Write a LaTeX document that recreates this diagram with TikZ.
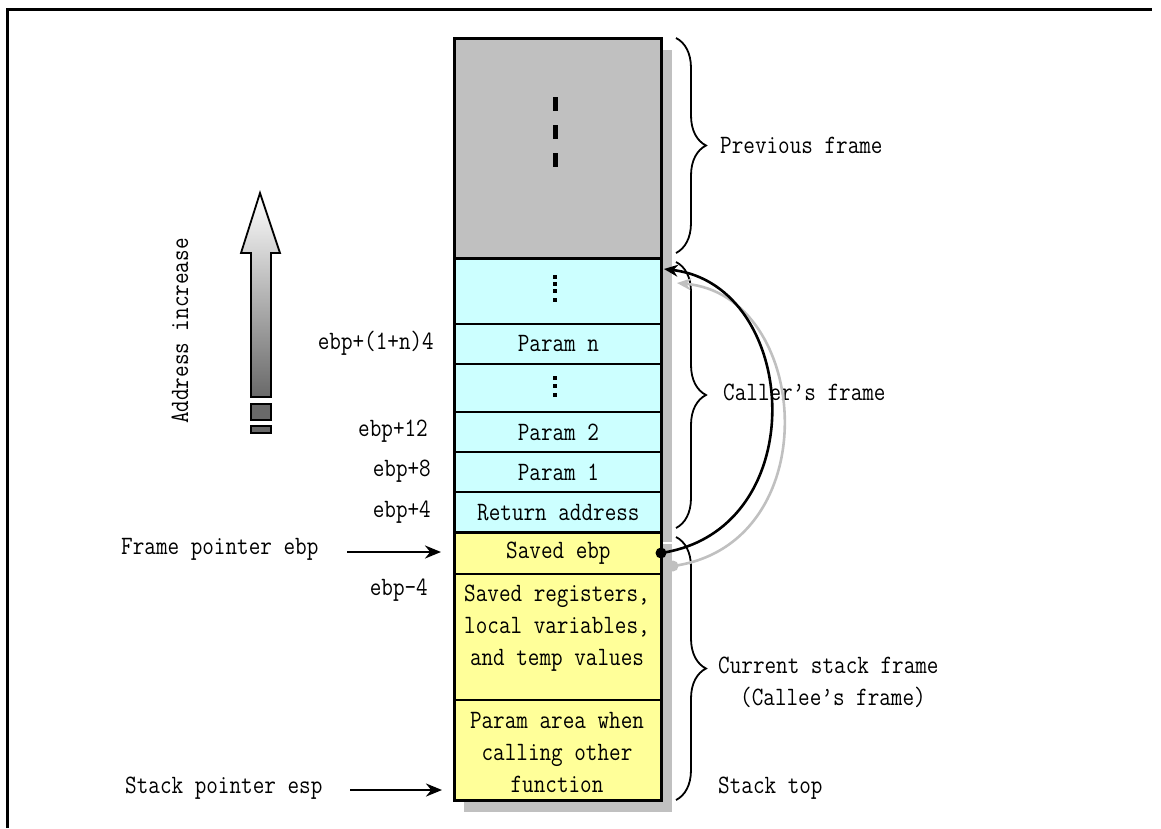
\documentclass[tikz,border=0pt]{standalone}
\usepackage{fontspec}
\setmainfont{Latin Modern Mono}[FakeStretch=0.85]
\usetikzlibrary{decorations.pathreplacing,arrows.meta}
\definecolor{cyanc}{RGB}{204,255,255}
\definecolor{yelc}{RGB}{255,255,153}
\definecolor{grayc}{RGB}{192,192,192}
\definecolor{shadowc}{RGB}{192,192,192}
\definecolor{darkg}{RGB}{105,105,105}
\begin{document}
\begin{tikzpicture}[x=1pt,y=-1pt,
  font=\fontsize{26.5}{32}\selectfont,
  cell/.style={draw, line width=1.8pt, minimum width=207pt, minimum height=#1, inner sep=0pt, anchor=north west},
  lbl/.style={inner sep=0pt, align=center},
  brc/.style={decorate, decoration={brace, amplitude=30pt}, line width=1.8pt},
  ptr/.style={line width=2.6pt, -{Stealth[length=16pt,width=13pt]}},
]
\useasboundingbox (0,0) rectangle (1161,828);
% outer frame
\draw[line width=3pt] (7,828) -- (7,9) -- (1152,9);
% shadow
\fill[shadowc] (464,50) rectangle (672,812);
\draw[white, line width=2pt] (661,543) -- (674,543);
% cells
\node[cell=220pt, fill=grayc] (prev) at (454,38) {};
\node[cell=65pt, fill=cyanc] (dtop) at (454,258) {};
\node[cell=40pt, fill=cyanc] (pn) at (454,323) {Param n};
\node[cell=48pt, fill=cyanc] (dmid) at (454,363) {};
\node[cell=40pt, fill=cyanc] (p2) at (454,411) {Param 2};
\node[cell=40pt, fill=cyanc] (p1) at (454,451) {Param 1};
\node[cell=41pt, fill=cyanc] (ret) at (454,491) {Return address};
\node[cell=41pt, fill=yelc] (sebp) at (454,532) {Saved ebp};
\node[cell=126pt, fill=yelc] (sregs) at (454,573) {};
\node[cell=101pt, fill=yelc] (parea) at (454,699) {};
\node[lbl] (sregt) at (557,628) {Saved registers,\\local variables,\\and temp values};
\node[lbl] (pareat) at (557,752) {Param area when\\calling other\\function};
% thick outlines
\draw[line width=3pt] (454,38) rectangle (661,800);
\draw[line width=3pt] (454,258) -- (661,258);
\draw[line width=3pt] (454,532) -- (661,532);
% dashes in previous frame
\fill (553,97) rectangle (558,111);
\fill (553,125) rectangle (558,139);
\fill (553,153) rectangle (558,167);
% vertical dots
\foreach \yy in {277,284,291,300} \fill (553,\yy-2) rectangle (557,\yy+2);
\foreach \yy in {378,386,395} \fill (553,\yy-2) rectangle (557,\yy+2);
% braces
\draw[brc] (676,38) -- (676,253) coordinate[midway] (bprev);
\draw[brc] (676,262) -- (676,528) coordinate[midway] (bcall);
\draw[brc] (676,537) -- (676,800) coordinate[midway] (bcur);
\node[lbl, anchor=west] (tprev) at (720,145) {Previous frame};
\node[lbl, anchor=west] (tcall) at (723,392) {Caller's frame};
\node[lbl, anchor=west] (tcur) at (718,665) {Current stack frame};
\node[lbl, anchor=west] (tcallee) at (740,697) {(Callee's frame)};
\node[lbl, anchor=west] (ttop) at (718,788) {Stack top};
% curved arrows
\coordinate (gs) at (673,566);
\coordinate (ge) at (677,283);
\draw[grayc, line width=2.6pt, -{Stealth[length=14pt,width=12pt]}] (gs) .. controls (828,545) and (812,295) .. (ge);
\fill[grayc] (gs) circle (5.5pt);
\coordinate (bs) at (661,553);
\coordinate (be) at (664,269);
\draw[line width=2.6pt, -{Stealth[length=14pt,width=12pt]}] (bs) .. controls (815,530) and (800,285) .. (be);
\fill (bs) circle (5.5pt);
% offset labels
\node[lbl, anchor=east] (o1) at (434,343) {ebp+(1+n)4};
\node[lbl, anchor=east] (o2) at (428,431) {ebp+12};
\node[lbl, anchor=east] (o3) at (431,471) {ebp+8};
\node[lbl, anchor=east] (o4) at (431,512) {ebp+4};
\node[lbl, anchor=east] (o5) at (428,590) {ebp-4};
% pointers
\node[lbl, anchor=west] (fp) at (121,549) {Frame pointer ebp};
\node[lbl, anchor=west] (sp) at (125,788) {Stack pointer esp};
\coordinate (fpa) at (347,552);
\coordinate (fpb) at (441,552);
\coordinate (spa) at (350,790);
\coordinate (spb) at (442,790);
\draw[ptr] (fpa) -- (fpb);
\draw[ptr] (spa) -- (spb);
% address increase arrow
\draw[line width=1.8pt, top color=white, bottom color=darkg]
  (251,397) -- (251,253) -- (241,253) -- (260,193) -- (280,253) -- (271,253) -- (271,397) -- cycle;
\draw[line width=1.8pt, fill=darkg] (251,404) rectangle (271,420);
\draw[line width=1.8pt, fill=darkg] (251,426) rectangle (271,433);
\node[lbl, rotate=90] (addr) at (180,331) {Address increase};
\end{tikzpicture}
\end{document}
